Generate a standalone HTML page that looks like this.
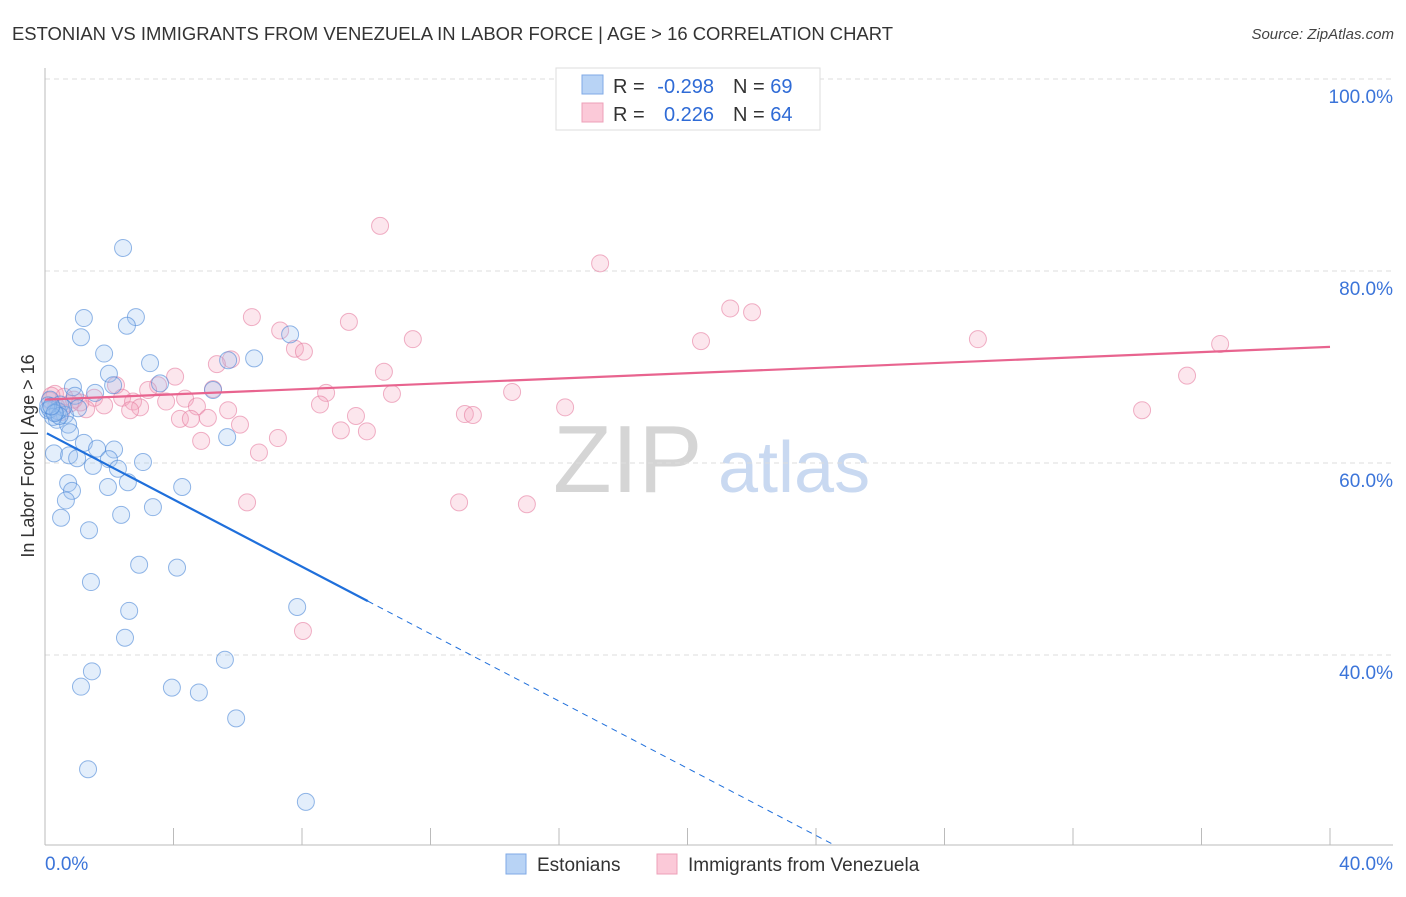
<!DOCTYPE html>
<html><head><meta charset="utf-8">
<style>
body{margin:0;background:#fff;font-family:"Liberation Sans",sans-serif;}
svg text{font-family:"Liberation Sans",sans-serif;}
</style></head>
<body>
<svg id="chart" width="1406" height="892" viewBox="0 0 1406 892">
<text x="12" y="40" font-size="18" fill="#333" textLength="881" lengthAdjust="spacingAndGlyphs">ESTONIAN VS IMMIGRANTS FROM VENEZUELA IN LABOR FORCE | AGE &gt; 16 CORRELATION CHART</text>
<text x="1394" y="39" font-size="15" fill="#444" font-style="italic" text-anchor="end">Source: ZipAtlas.com</text>
<g>
<text x="553" y="492" font-size="96" fill="#d5d5d5" font-family="Liberation Serif">ZIP</text>
<text x="718" y="492" font-size="72" fill="#c9d9f1">atlas</text>
</g>
<g id="grid"></g>
<g id="axes"></g>
<g id="marks"></g>
<text x="34" y="456" font-size="18" fill="#333" text-anchor="middle" transform="rotate(-90 34 456)">In Labor Force | Age &gt; 16</text>
<g>
<rect x="556" y="68" width="264" height="62" fill="#fff" stroke="#ddd"/>
<rect x="582" y="75" width="21" height="19" fill="#b8d3f5" stroke="#7fa9e6"/>
<rect x="582" y="103" width="21" height="19" fill="#fbc9d8" stroke="#eea0b8"/>
<text x="613" y="93" font-size="20" fill="#333">R =</text>
<text x="714" y="93" font-size="20" fill="#2f6bd6" text-anchor="end">-0.298</text>
<text x="733" y="93" font-size="20" fill="#333">N = <tspan fill="#2f6bd6">69</tspan></text>
<text x="613" y="121" font-size="20" fill="#333">R =</text>
<text x="714" y="121" font-size="20" fill="#2f6bd6" text-anchor="end">0.226</text>
<text x="733" y="121" font-size="20" fill="#333">N = <tspan fill="#2f6bd6">64</tspan></text>
</g>
<g>
<rect x="506" y="854" width="20" height="20" fill="#b8d3f5" stroke="#7fa9e6"/>
<text x="537" y="871" font-size="19" fill="#333">Estonians</text>
<rect x="657" y="854" width="20" height="20" fill="#fbc9d8" stroke="#eea0b8"/>
<text x="688" y="871" font-size="19" fill="#333">Immigrants from Venezuela</text>
</g>
</svg>
<script>
const blueX=[2.43,1.21,2.83,2.55,1.12,7.63,1.84,3.27,6.51,5.70,1.99,3.58,5.23,0.87,2.12,1.56,0.93,0.16,0.47,1.03,0.31,0.62,0.09,0.37,0.72,0.78,5.67,1.21,2.15,1.62,0.28,0.75,1.00,1.99,3.05,1.49,2.27,2.58,0.72,1.96,4.27,0.84,0.65,3.36,2.37,0.50,1.37,2.93,4.11,1.43,7.85,2.62,2.49,5.60,1.46,1.12,3.95,4.79,5.95,1.34,8.12,0.16,0.40,0.56,0.25,0.10,0.45,0.30,0.20];
const blueY=[82.4,75.1,75.2,74.3,73.1,73.4,71.4,70.4,70.9,70.7,69.3,68.3,67.6,67.9,68.1,67.3,67.0,66.6,66.1,65.7,65.3,65.0,65.5,64.5,64.0,63.2,62.7,62.1,61.4,61.5,61.0,60.8,60.5,60.4,60.1,59.7,59.4,58.0,57.9,57.5,57.5,57.1,56.1,55.4,54.6,54.3,53.0,49.4,49.1,47.6,45.0,44.6,41.8,39.5,38.3,36.7,36.6,36.1,33.4,28.1,24.7,65.6,65.4,65.8,64.8,66.0,64.9,65.2,65.9];
const pinkX=[10.43,17.28,21.33,22.01,6.44,9.46,7.32,29.04,11.45,20.42,36.58,7.78,8.06,5.79,5.35,10.55,4.05,35.55,2.21,3.52,5.23,3.21,8.75,14.54,10.8,0.31,1.53,2.40,4.36,2.74,3.77,0.78,1.84,8.56,4.73,16.19,1.28,2.96,2.65,5.70,34.15,0.50,13.07,13.32,9.68,4.20,4.54,5.07,9.21,10.02,6.07,7.25,4.86,6.66,6.29,12.89,15.0,8.03,0.15,0.60,1.10,0.35,0.90,0.20];
const pinkY=[84.7,80.8,76.1,75.7,75.2,74.7,73.8,72.9,72.9,72.7,72.4,71.9,71.6,70.8,70.3,69.5,69.0,69.1,68.1,68.1,67.7,67.6,67.3,67.4,67.2,67.2,66.8,66.8,66.7,66.4,66.4,66.2,66.0,66.1,65.9,65.8,65.6,65.8,65.5,65.5,65.5,65.3,65.1,65.0,64.9,64.6,64.6,64.7,63.4,63.3,64.0,62.6,62.3,61.1,55.9,55.9,55.7,42.5,66.5,66.9,66.3,65.9,66.6,67.0];
const blueTrend=[63.2,-1.75]; // intercept, slope
const pinkTrend=[66.6,0.1375];
const yTicks=[100,80,60,40];
const xTicks=[0,4,8,12,16,20,24,28,32,36,40];
const NS="http://www.w3.org/2000/svg";
const X0=45,X1=1330,XMAX=40,Y100=79,PX20=192;
const sx=v=>X0+(v/XMAX)*(X1-X0);
const sy=v=>Y100+(100-v)/20*PX20;
const YMIN=100-(845-Y100)/PX20*20;
function mk(parent,tag,attrs){const e=document.createElementNS(NS,tag);for(const k in attrs)e.setAttribute(k,attrs[k]);document.getElementById(parent).appendChild(e);return e;}
yTicks.forEach(t=>{
 const l=mk('grid','line',{x1:X0,x2:1393,y1:sy(t),y2:sy(t),stroke:'#ddd','stroke-dasharray':'5,4'});
 
 
 const tx=mk('grid','text',{x:1393,y:sy(t)+24,'font-size':19,fill:'#3b74d9','text-anchor':'end'});
 tx.textContent=t.toFixed(1)+'%';
 
 
});
let a=mk('axes','line',{x1:X0,x2:X0,y1:68,y2:845,stroke:'#bbb'});


a=mk('axes','line',{x1:X0,x2:1393,y1:845,y2:845,stroke:'#bbb'});


xTicks.forEach(t=>{
 const l=mk('axes','line',{x1:sx(t),x2:sx(t),y1:828,y2:845,stroke:'#bbb'});
 
 
});
[[0,'start',X0],[40,'end',1393]].forEach(([v,anc,x])=>{
 const tx=mk('axes','text',{x:x,y:870,'font-size':19,fill:'#3b74d9','text-anchor':anc});
 tx.textContent=v.toFixed(1)+'%';
 
 
});
pinkX.forEach((x,i)=>{
 const c=mk('marks','circle',{cx:sx(x),cy:sy(pinkY[i]),r:8.5,fill:'rgba(245,165,190,0.28)',stroke:'rgba(230,125,160,0.6)','stroke-width':1});
 
 
});
blueX.forEach((x,i)=>{
 const c=mk('marks','circle',{cx:sx(x),cy:sy(blueY[i]),r:8.5,fill:'rgba(155,195,240,0.28)',stroke:'rgba(75,135,215,0.6)','stroke-width':1});
 
 
});
const bx0=0.06,bx1=10.05,bxEnd=(YMIN-blueTrend[0])/blueTrend[1];
let ln=mk('marks','line',{x1:sx(bx0),y1:sy(blueTrend[0]+blueTrend[1]*bx0),x2:sx(bx1),y2:sy(blueTrend[0]+blueTrend[1]*bx1),stroke:'#1f6fdb','stroke-width':2.2});


ln=mk('marks','line',{x1:sx(bx1),y1:sy(blueTrend[0]+blueTrend[1]*bx1),x2:sx(bxEnd),y2:sy(YMIN),stroke:'#1f6fdb','stroke-width':1,'stroke-dasharray':'6,5'});


ln=mk('marks','line',{x1:sx(0),y1:sy(pinkTrend[0]),x2:sx(40),y2:sy(pinkTrend[0]+pinkTrend[1]*40),stroke:'#e8648f','stroke-width':2.2});


</script>
</body></html>
